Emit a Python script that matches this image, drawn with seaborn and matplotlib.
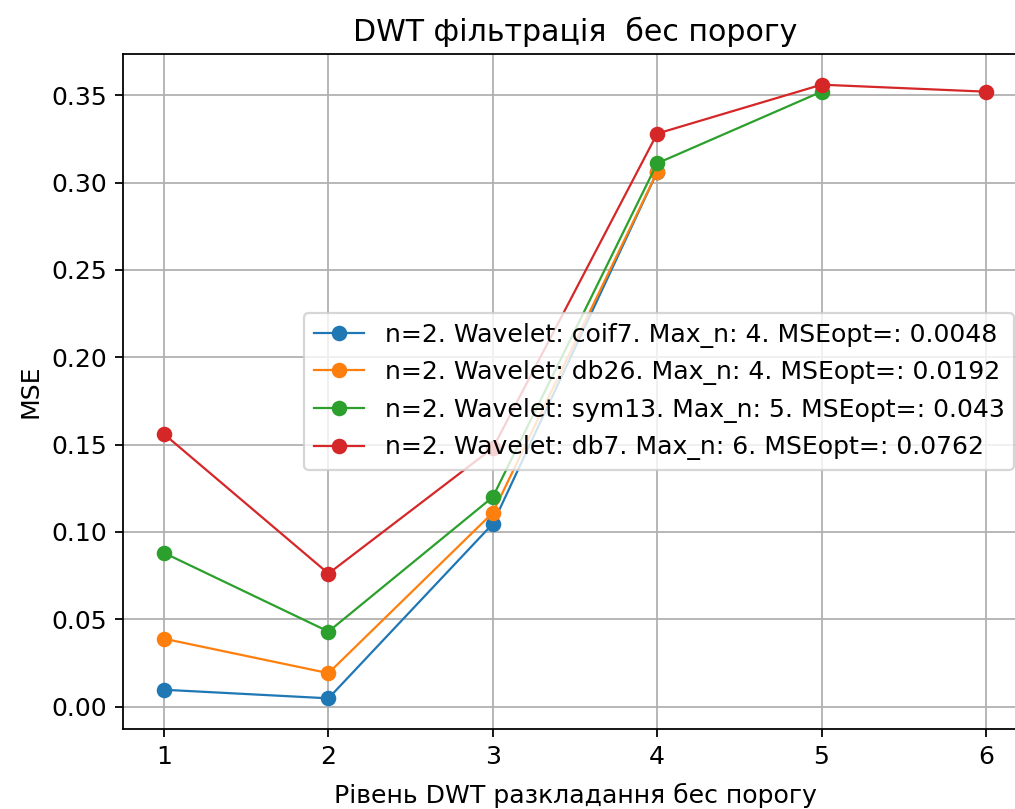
import matplotlib
matplotlib.use("Agg")
import matplotlib.pyplot as plt
import seaborn as sns
import pandas as pd

labels = [
    "n=2. Wavelet: coif7. Max_n: 4. MSEopt=: 0.0048",
    "n=2. Wavelet: db26. Max_n: 4. MSEopt=: 0.0192",
    "n=2. Wavelet: sym13. Max_n: 5. MSEopt=: 0.043",
    "n=2. Wavelet: db7. Max_n: 6. MSEopt=: 0.0762",
]
levels_coif7 = [1, 2, 3, 4]
mse_coif7 = [0.0097, 0.0048, 0.1047, 0.306]
levels_db26 = [1, 2, 3, 4]
mse_db26 = [0.0389, 0.0192, 0.111, 0.306]
levels_sym13 = [1, 2, 3, 4, 5]
mse_sym13 = [0.088, 0.043, 0.120, 0.311, 0.352]
levels_db7 = [1, 2, 3, 4, 5, 6]
mse_db7 = [0.156, 0.0762, 0.148, 0.328, 0.356, 0.352]

rows = []
for lab, xs, ys in zip(labels,
                       [levels_coif7, levels_db26, levels_sym13, levels_db7],
                       [mse_coif7, mse_db26, mse_sym13, mse_db7]):
    for x, y in zip(xs, ys):
        rows.append({"level": x, "mse": y, "series": lab})
df = pd.DataFrame(rows)

plt.rcParams["font.size"] = 11.3

fig = plt.figure(figsize=(1015 / 160, 809 / 160), dpi=160)
ax = fig.add_axes([123 / 1015, 1 - 729 / 809, (1027 - 123) / 1015, (729 - 54) / 809])

sns.lineplot(data=df, x="level", y="mse", hue="series", hue_order=labels,
             palette=sns.color_palette("tab10", 4), marker="o", markersize=7,
             markeredgewidth=0, linewidth=1, ax=ax, sort=False)

ax.grid(True, color="#b0b0b0", linewidth=0.8)
ax.set_axisbelow(True)
ax.set_xticks([1, 2, 3, 4, 5, 6])
ax.tick_params(labelsize=11.3)
ax.set_title("DWT фільтрація  бес порогу", fontsize=13.5, pad=6)
ax.set_xlabel("Рівень DWT разкладання бес порогу", fontsize=11.3, labelpad=6.5)
ax.set_ylabel("MSE", fontsize=11.3)
ax.legend(title=None, loc="center right", fontsize=11.3)

fig.savefig("out.png", dpi=160)
